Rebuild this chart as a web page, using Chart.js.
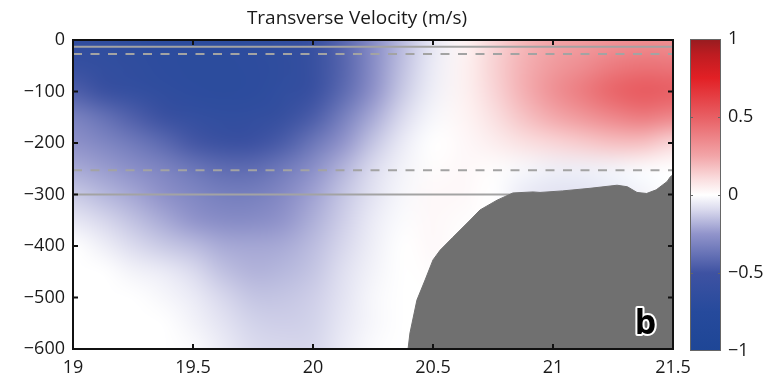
<!DOCTYPE html>
<html>
<head>
<meta charset="utf-8">
<script src="https://cdn.jsdelivr.net/npm/chart.js@4.4.1/dist/chart.umd.min.js"></script>
<style>
  body { margin: 0; background: #fff; }
  #wrap { position: relative; width: 780px; height: 378px; }
  #main { position: absolute; left: 0; top: 0; }
  #cbar { position: absolute; left: 680px; top: 0; }
</style>
</head>
<body>
<div id="wrap">
  <canvas id="main" width="714" height="378"></canvas>
  <canvas id="cbar" width="100" height="378"></canvas>
</div>
<script>
// grid of the velocity section (x = longitude-ish distance, y = depth in m)
const gridX = [19.0, 19.125, 19.25, 19.375, 19.5, 19.625, 19.75, 19.875, 20.0, 20.125, 20.25,
               20.375, 20.5, 20.625, 20.75, 20.875, 21.0, 21.125, 21.25, 21.375, 21.5]
const gridY = [0, -50, -100, -150, -200, -250, -300, -350, -400, -450, -500, -550, -600]

// transverse velocity (m/s), one row per depth in gridY
const velocity = [
  [-0.62,-0.64,-0.66,-0.68,-0.68,-0.68,-0.67,-0.64,-0.56,-0.42,-0.28,-0.16,-0.06, 0.03, 0.12, 0.20, 0.25, 0.28, 0.31, 0.33, 0.33],
  [-0.58,-0.62,-0.65,-0.68,-0.69,-0.69,-0.68,-0.65,-0.57,-0.43,-0.28,-0.15,-0.05, 0.04, 0.13, 0.22, 0.29, 0.34, 0.40, 0.43, 0.42],
  [-0.45,-0.53,-0.60,-0.65,-0.68,-0.69,-0.68,-0.64,-0.55,-0.41,-0.26,-0.13,-0.04, 0.04, 0.12, 0.22, 0.32, 0.40, 0.48, 0.52, 0.50],
  [-0.32,-0.38,-0.45,-0.53,-0.60,-0.64,-0.63,-0.57,-0.46,-0.33,-0.20,-0.09,-0.02, 0.03, 0.09, 0.17, 0.24, 0.30, 0.36, 0.40, 0.36],
  [-0.26,-0.30,-0.35,-0.41,-0.48,-0.53,-0.52,-0.46,-0.36,-0.25,-0.14,-0.05, 0.00, 0.02, 0.05, 0.09, 0.12, 0.15, 0.18, 0.18, 0.12],
  [-0.20,-0.23,-0.27,-0.31,-0.36,-0.40,-0.40,-0.35,-0.27,-0.18,-0.09,-0.03, 0.01, 0.02, 0.01,-0.02,-0.04,-0.04,-0.03,-0.01, 0.00],
  [-0.13,-0.17,-0.21,-0.26,-0.30,-0.33,-0.33,-0.29,-0.22,-0.14,-0.07,-0.02, 0.02, 0.02, 0.00,-0.05,-0.07,-0.07,-0.05,-0.03, 0.00],
  [-0.06,-0.10,-0.15,-0.20,-0.25,-0.28,-0.28,-0.25,-0.19,-0.12,-0.05,-0.01, 0.02, 0.01, 0.00, 0.00, 0.00, 0.00, 0.00, 0.00, 0.00],
  [ 0.00,-0.04,-0.09,-0.13,-0.16,-0.20,-0.21,-0.20,-0.16,-0.10,-0.04, 0.00, 0.02, 0.00, 0.00, 0.00, 0.00, 0.00, 0.00, 0.00, 0.00],
  [ 0.00, 0.00,-0.03,-0.05,-0.09,-0.15,-0.18,-0.17,-0.14,-0.08,-0.03, 0.00, 0.01, 0.00, 0.00, 0.00, 0.00, 0.00, 0.00, 0.00, 0.00],
  [ 0.00, 0.00, 0.00,-0.02,-0.05,-0.10,-0.14,-0.14,-0.12,-0.07,-0.02, 0.00, 0.00, 0.00, 0.00, 0.00, 0.00, 0.00, 0.00, 0.00, 0.00],
  [ 0.00, 0.00, 0.00, 0.00,-0.03,-0.07,-0.11,-0.12,-0.11,-0.06,-0.02, 0.00, 0.00, 0.00, 0.00, 0.00, 0.00, 0.00, 0.00, 0.00, 0.00],
  [ 0.00, 0.00, 0.00, 0.00,-0.01,-0.05,-0.09,-0.10,-0.10,-0.05,-0.01, 0.00, 0.00, 0.00, 0.00, 0.00, 0.00, 0.00, 0.00, 0.00, 0.00]
]

// bottom topography (top edge of the grey seabed)
const bathX = [20.396, 20.404, 20.433, 20.467, 20.5, 20.53, 20.583, 20.654, 20.696, 20.767, 20.833, 20.917,
               20.946, 21.04, 21.154, 21.267, 21.31, 21.35, 21.39, 21.43, 21.475, 21.49, 21.5]
const bathY = [-600, -569, -505, -466, -427, -408, -383, -350, -330, -311, -297, -295,
               -296, -293, -288, -282, -285, -296, -298, -291, -275, -265, -262]

// reference depths drawn as horizontal lines
const solidDepths = [-13, -300]
const dashedDepths = [-27, -253]

// colour map stops (value -> rgb)
const cmapValues = [-1, -0.75, -0.5, -0.25, -0.1, 0, 0.1, 0.25, 0.5, 0.75, 0.9, 1]
const cmapColors = [[30,70,150],[38,74,156],[62,82,162],[145,148,203],[215,215,236],[255,255,255],
                    [250,222,223],[242,165,168],[232,95,100],[226,32,37],[190,28,33],[150,28,32]]

const xTicks = [19, 19.5, 20, 20.5, 21, 21.5]
const yTicks = [0, -100, -200, -300, -400, -500, -600]
const cbarTicks = [-1, -0.5, 0, 0.5, 1]
const titleText = 'Transverse Velocity (m/s)'

function cmap(v) {
  if (v <= cmapValues[0]) return cmapColors[0]
  for (let i = 1; i < cmapValues.length; i++) {
    if (v <= cmapValues[i]) {
      let t = (v - cmapValues[i-1]) / (cmapValues[i] - cmapValues[i-1])
      let a = cmapColors[i-1], b = cmapColors[i]
      return [a[0] + (b[0]-a[0])*t, a[1] + (b[1]-a[1])*t, a[2] + (b[2]-a[2])*t]
    }
  }
  return cmapColors[cmapColors.length - 1]
}

function minus(v) {
  return String(v).replace('-', '\u2212')
}

Chart.defaults.font.family = "'Open Sans', sans-serif"
Chart.defaults.color = '#1a1a1a'

// paint the velocity grid under the datasets, placed with the chart scales
const heatmapPlugin = {
  id: 'heatmap',
  beforeDatasetsDraw(chart) {
    const {ctx, chartArea, scales} = chart
    const nx = gridX.length, ny = gridY.length
    const off = document.createElement('canvas')
    off.width = nx
    off.height = ny
    const octx = off.getContext('2d')
    const img = octx.createImageData(nx, ny)
    for (let j = 0; j < ny; j++) {
      for (let i = 0; i < nx; i++) {
        let c = cmap(velocity[j][i])
        let k = (j * nx + i) * 4
        img.data[k] = c[0]; img.data[k+1] = c[1]; img.data[k+2] = c[2]; img.data[k+3] = 255
      }
    }
    octx.putImageData(img, 0, 0)
    const dx = gridX[1] - gridX[0], dy = gridY[0] - gridY[1]
    const left = scales.x.getPixelForValue(gridX[0] - dx / 2)
    const right = scales.x.getPixelForValue(gridX[nx-1] + dx / 2)
    const top = scales.y.getPixelForValue(gridY[0] + dy / 2)
    const bottom = scales.y.getPixelForValue(gridY[ny-1] - dy / 2)
    ctx.save()
    ctx.beginPath()
    ctx.rect(chartArea.left, chartArea.top, chartArea.right - chartArea.left, chartArea.bottom - chartArea.top)
    ctx.clip()
    ctx.imageSmoothingEnabled = true
    ctx.imageSmoothingQuality = 'high'
    ctx.drawImage(off, left, top, right - left, bottom - top)
    ctx.restore()
  }
}

// black box with inward ticks, the title and the panel letter
const framePlugin = {
  id: 'frame',
  afterDraw(chart) {
    const {ctx, chartArea: a, scales} = chart
    ctx.save()
    ctx.strokeStyle = '#111'
    ctx.lineWidth = 2
    ctx.beginPath()
    xTicks.forEach(v => {
      let px = scales.x.getPixelForValue(v)
      ctx.moveTo(px, a.bottom); ctx.lineTo(px, a.bottom - 5)
      ctx.moveTo(px, a.top); ctx.lineTo(px, a.top + 5)
    })
    yTicks.forEach(v => {
      let py = scales.y.getPixelForValue(v)
      ctx.moveTo(a.left, py); ctx.lineTo(a.left + 5, py)
      ctx.moveTo(a.right, py); ctx.lineTo(a.right - 5, py)
    })
    ctx.stroke()
    ctx.strokeRect(a.left, a.top, a.right - a.left, a.bottom - a.top)

    // title sits a little left of the axes centre, as in the figure
    ctx.font = "19px 'Open Sans', sans-serif"
    ctx.fillStyle = '#1a1a1a'
    ctx.textAlign = 'center'
    ctx.textBaseline = 'alphabetic'
    ctx.fillText(titleText, (a.left + a.right) / 2 - 16, 24)

    ctx.font = "bold 34px 'Open Sans', sans-serif"
    let bx = scales.x.getPixelForValue(21.385), by = scales.y.getPixelForValue(-571)
    ctx.lineWidth = 4
    ctx.strokeStyle = '#fff'
    ctx.lineJoin = 'round'
    ctx.strokeText('b', bx, by)
    ctx.fillStyle = '#000'
    ctx.fillText('b', bx, by)
    ctx.restore()
  }
}

function hline(depth, dashed) {
  return {
    type: 'line',
    data: [{x: 19, y: depth}, {x: 21.5, y: depth}],
    borderColor: '#a3a3a3',
    borderWidth: 2,
    borderDash: dashed ? [9, 8.5] : [],
    pointRadius: 0,
    fill: false,
    order: 1
  }
}

let datasets = [{
  type: 'line',
  data: bathX.map((x, i) => ({x: x, y: bathY[i]})),
  borderColor: '#707070',
  backgroundColor: '#707070',
  borderWidth: 1,
  pointRadius: 0,
  fill: 'start',
  order: 0
}]
solidDepths.forEach(d => datasets.push(hline(d, false)))
dashedDepths.forEach(d => datasets.push(hline(d, true)))

new Chart(document.getElementById('main').getContext('2d'), {
  type: 'line',
  data: { datasets },
  options: {
    responsive: false,
    animation: false,
    layout: { padding: { left: 0, right: 41, top: 40, bottom: 0 } },
    plugins: {
      legend: { display: false },
      tooltip: { enabled: false },
      title: { display: false }
    },
    scales: {
      x: {
        type: 'linear', min: 19, max: 21.5,
        grid: { display: false, drawTicks: false },
        border: { display: false },
        afterBuildTicks: s => { s.ticks = xTicks.map(v => ({value: v})) },
        afterFit: s => { s.height = 29 },
        ticks: { font: { size: 18 }, padding: 8, maxRotation: 0,
                 callback: v => minus(v) }
      },
      y: {
        type: 'linear', min: -600, max: 0,
        grid: { display: false, drawTicks: false },
        border: { display: false },
        afterBuildTicks: s => { s.ticks = yTicks.map(v => ({value: v})) },
        afterFit: s => { s.width = 73 },
        ticks: { font: { size: 18 }, padding: 8,
                 callback: v => minus(v) }
      }
    }
  },
  plugins: [heatmapPlugin, framePlugin]
})

// colour bar
const cbarPlugin = {
  id: 'cbarFill',
  beforeDatasetsDraw(chart) {
    const {ctx, chartArea: a, scales} = chart
    const y0 = scales.y.getPixelForValue(-1), y1 = scales.y.getPixelForValue(1)
    const g = ctx.createLinearGradient(0, y0, 0, y1)
    cmapValues.forEach((v, i) => {
      let c = cmapColors[i]
      g.addColorStop((v + 1) / 2, 'rgb(' + c[0] + ',' + c[1] + ',' + c[2] + ')')
    })
    ctx.save()
    ctx.fillStyle = g
    ctx.fillRect(a.left, a.top, a.right - a.left, a.bottom - a.top)
    ctx.strokeStyle = '#666'
    ctx.lineWidth = 1
    ctx.strokeRect(a.left + 0.5, a.top + 0.5, a.right - a.left - 1, a.bottom - a.top - 1)
    ctx.beginPath()
    cbarTicks.slice(1, -1).forEach(v => {
      let py = Math.round(scales.y.getPixelForValue(v)) + 0.5
      ctx.moveTo(a.left, py); ctx.lineTo(a.left + 3, py)
      ctx.moveTo(a.right, py); ctx.lineTo(a.right - 3, py)
    })
    ctx.stroke()
    ctx.restore()
  }
}

new Chart(document.getElementById('cbar').getContext('2d'), {
  type: 'scatter',
  data: { datasets: [] },
  options: {
    responsive: false,
    animation: false,
    layout: { padding: { left: 10, right: 0, top: 39, bottom: 27 } },
    plugins: { legend: { display: false }, tooltip: { enabled: false } },
    scales: {
      x: { display: false, min: 0, max: 1 },
      y: {
        position: 'right', min: -1, max: 1,
        grid: { display: false, drawTicks: false },
        border: { display: false },
        afterBuildTicks: s => { s.ticks = cbarTicks.map(v => ({value: v})) },
        afterFit: s => { s.width = 59 },
        ticks: { font: { size: 18 }, padding: 7,
                 callback: v => minus(v) }
      }
    }
  },
  plugins: [cbarPlugin]
})
</script>
</body>
</html>
